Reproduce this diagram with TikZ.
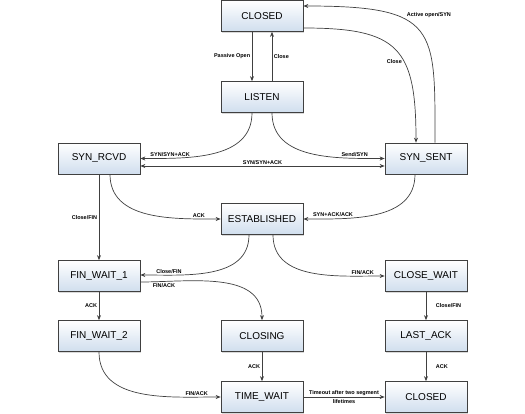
\documentclass[tikz,border=0pt]{standalone}
\usepackage{fontspec}
\setmainfont{Liberation Sans}
\usetikzlibrary{arrows.meta,shadows}

\definecolor{boxtop}{RGB}{255,255,255}
\definecolor{boxbottom}{RGB}{208,222,238}
\definecolor{linegray}{RGB}{64,64,64}

\tikzset{
statebox/.style={draw=linegray, line width=0.7pt, top color=boxtop, bottom color=boxbottom,
  minimum width=82pt, minimum height=31pt, inner sep=0pt, font=\fontsize{10}{12}\selectfont,
  drop shadow={opacity=0.3, shadow xshift=1.2pt, shadow yshift=-1.2pt}},
lbl/.style={font=\fontsize{5.5}{6.5}\selectfont\bfseries, inner sep=1.5pt},
>={Stealth[length=5pt,width=4pt]}
}

\begin{document}
\begin{tikzpicture}[x=1pt, y=1pt, line width=0.7pt, color=linegray, text=black]
\useasboundingbox (0,0) rectangle (525,-414);

\node[statebox] (closedA) at (262,-16) {CLOSED};
\node[statebox] (listen) at (262,-97) {LISTEN};
\node[statebox] (synrcvd) at (99,-158.5) {SYN\_RCVD};
\node[statebox] (synsent) at (426,-158.5) {SYN\_SENT};
\node[statebox] (estab) at (262,-219) {ESTABLISHED};
\node[statebox] (finwaitA) at (99,-276) {FIN\_WAIT\_1};
\node[statebox] (closewait) at (426,-276) {CLOSE\_WAIT};
\node[statebox] (finwaitB) at (99,-336) {FIN\_WAIT\_2};
\node[statebox] (closing) at (262,-336) {CLOSING};
\node[statebox] (lastack) at (426,-336) {LAST\_ACK};
\node[statebox] (timewait) at (262,-397) {TIME\_WAIT};
\node[statebox] (closedB) at (426,-397) {CLOSED};

% open / close
\draw[->] ([xshift=-10pt]closedA.south) -- ([xshift=-10pt]listen.north) node[lbl,midway,left] {Passive Open};
\draw[->] ([xshift=10pt]listen.north) -- ([xshift=10pt]closedA.south) node[lbl,midway,right] {Close};
\draw[->] ([xshift=9pt]synsent.north) .. controls +(0,115) and +(135,0) .. ([yshift=10pt]closedA.east) node[lbl,pos=0.62,above right] {Active open/SYN};
\draw[->] ([yshift=-12pt]closedA.east) .. controls +(95,0) and +(0,95) .. ([xshift=-10pt]synsent.north) node[lbl,pos=0.6,left] {Close};

% handshake
\draw[->] ([xshift=-10pt]listen.south) to[out=270,in=0] node[lbl,pos=0.8,above] {SYN/SYN+ACK} (synrcvd.east);
\draw[->] ([xshift=10pt]listen.south) to[out=270,in=180] node[lbl,pos=0.8,above] {Send/SYN} (synsent.west);
\draw[<->] ([yshift=-7.5pt]synrcvd.east) -- ([yshift=-7.5pt]synsent.west) node[lbl,midway,above] {SYN/SYN+ACK};
\draw[->] ([xshift=11pt]synrcvd.south) to[out=270,in=180] node[lbl,pos=0.85,above] {ACK} (estab.west);
\draw[->] ([xshift=-11pt]synsent.south) to[out=270,in=0] node[lbl,pos=0.8,above] {SYN+ACK/ACK} (estab.east);

% closing
\draw[->] (synrcvd.south) -- (finwaitA.north) node[lbl,midway,left] {Close/FIN};
\draw[->] ([xshift=-13pt]estab.south) to[out=270,in=0] node[lbl,pos=0.8,above] {Close/FIN} ([yshift=1pt]finwaitA.east);
\draw[->] ([yshift=-6pt]finwaitA.east) to[out=0,in=90] node[lbl,pos=0.15,below] {FIN/ACK} (closing.north);
\draw[->] ([xshift=11pt]estab.south) to[out=270,in=180] node[lbl,pos=0.85,above] {FIN/ACK} (closewait.west);
\draw[->] (finwaitA.south) -- (finwaitB.north) node[lbl,midway,left] {ACK};
\draw[->] (closewait.south) -- (lastack.north) node[lbl,midway,right=8pt] {Close/FIN};
\draw[->] (finwaitB.south) to[out=270,in=180] node[lbl,pos=0.85,above] {FIN/ACK} (timewait.west);
\draw[->] (closing.south) -- (timewait.north) node[lbl,midway,left] {ACK};
\draw[->] (lastack.south) -- (closedB.north) node[lbl,midway,right=8pt] {ACK};
\draw[->] (timewait.east) -- (closedB.west) node[lbl,midway,align=center] {Timeout after two segment\\[2pt]lifetimes};

\end{tikzpicture}
\end{document}
